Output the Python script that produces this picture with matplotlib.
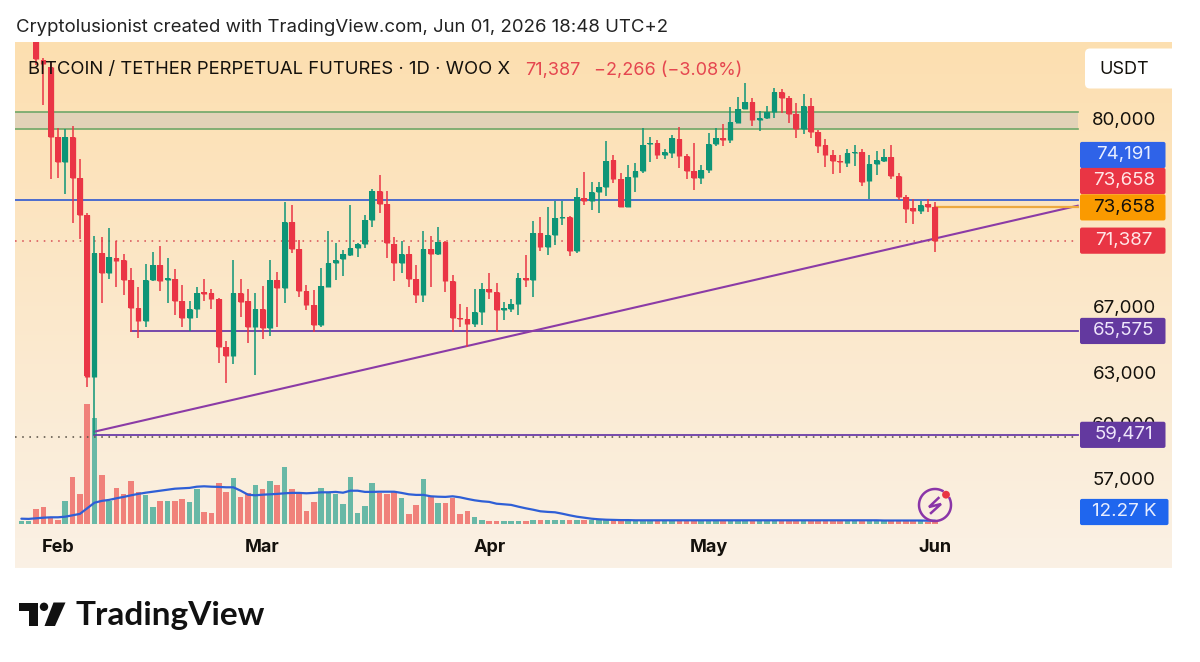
import numpy as np
import pandas as pd
import matplotlib
matplotlib.use("Agg")
import matplotlib.pyplot as plt
import matplotlib.dates as mdates
from matplotlib.patches import FancyBboxPatch, Polygon, Circle

plt.rcParams["font.family"] = ["Inter", "DejaVu Sans"]

# Daily BTC/USDT perpetual candles from 27 Jan to 1 Jun 2026
dates = pd.date_range("2026-01-27", "2026-06-01", freq="D")

opens = [
    88000, 88700,
    87800, 84606, 84050, 78695, 76865, 78695, 75720, 73130, 62850, 70560,
    69245, 70230, 70100, 68790, 67005, 66190, 68790, 69770, 68790, 68855,
    67450, 66375, 66945, 68020, 67960, 67575, 64595, 64050, 67960, 67450,
    65820, 66945, 65760, 68790, 68280, 72650, 70830, 68090, 67195, 65945,
    68340, 69900, 70165, 70430, 70895, 71160, 72790, 74800, 73890, 71160,
    69900, 70495, 68855, 67830, 70830, 70495, 71295, 68730, 66375, 66315,
    66005, 66755, 68215, 68020, 66880, 66945, 67260, 68920, 68790, 71900,
    70960, 71765, 72925, 72990, 70695, 74310, 74100, 74730, 75080, 77010,
    75650, 73680, 75790, 76220, 78180, 78250, 77375, 77520, 78545, 77300,
    76220, 75720, 76290, 78180, 78620, 78475, 79780, 80795, 81330, 79965,
    80115, 80570, 82100, 81635, 80420, 79290, 81025, 79065, 78105, 77375,
    76940, 76795, 77520, 77595, 75505, 76720, 76940, 77230, 75865, 74380,
    73610, 73405, 73890, 73658,
]
closes = [
    88700, 89200,
    84690, 84290, 78695, 76865, 78695, 75720, 73130, 62850, 70560, 69245,
    70300, 70030, 68790, 67005, 66190, 68790, 69770, 68730, 68920, 67450,
    66375, 66945, 67960, 67895, 67575, 64595, 64050, 67960, 67385, 65820,
    66945, 65760, 68790, 68280, 72650, 70830, 68090, 67195, 65945, 68405,
    69900, 70100, 70495, 70895, 71160, 72790, 74800, 73890, 71230, 69900,
    70495, 68855, 67830, 70830, 70495, 71295, 68730, 66375, 66315, 66005,
    66755, 68215, 68020, 66880, 67005, 67260, 68920, 68790, 71900, 70960,
    71765, 72925, 72990, 70695, 74380, 74100, 74730, 75080, 76940, 75650,
    73680, 75790, 76220, 78105, 78250, 77375, 77595, 78620, 77300, 76220,
    75720, 76290, 78180, 78620, 78475, 79780, 80795, 81330, 79965, 80115,
    80570, 82100, 81635, 80420, 79290, 81025, 79065, 78030, 77375, 76940,
    76865, 77520, 77595, 75435, 76720, 77010, 77230, 75865, 74380, 73545,
    73405, 73820, 73680, 71387,
]
highs = [
    89500, 89500,
    88400, 84800, 84450, 79365, 79290, 79515, 77085, 73265, 71700, 71630,
    72240, 71360, 70495, 69575, 68340, 69835, 70630, 71030, 70230, 69510,
    68470, 67450, 68340, 68855, 68215, 67640, 64960, 70100, 68855, 68215,
    67960, 68405, 70100, 69315, 74030, 73820, 71430, 68470, 68150, 69575,
    72040, 71230, 70760, 73820, 71230, 73130, 74940, 75935, 74800, 71630,
    71360, 71030, 69770, 72040, 71700, 72310, 71360, 69115, 67260, 67070,
    68215, 68600, 69245, 68600, 67385, 67575, 69245, 70430, 72720, 72990,
    73680, 74100, 74100, 73060, 75010, 76145, 75435, 75435, 78400, 77375,
    76075, 76650, 76795, 79365, 78695, 78475, 77810, 78845, 79440, 77445,
    78250, 76650, 78990, 79365, 79665, 80945, 81710, 82795, 81635, 80645,
    81025, 82410, 82330, 81790, 81255, 81945, 81635, 79215, 78545, 77740,
    77375, 77810, 78105, 77810, 77375, 77665, 77810, 78105, 76075, 74520,
    74240, 74100, 74240, 74030,
]
lows = [
    87700, 87700,
    84200, 81100, 75650, 75720, 74585, 72580, 71500, 62210, 59471, 67320,
    68860, 68340, 67830, 65510, 65140, 65820, 68730, 68090, 67320, 66565,
    65820, 65570, 66375, 67450, 66945, 63630, 62445, 63570, 66440, 64835,
    62915, 65080, 65265, 65820, 67320, 70560, 67700, 66880, 65510, 65820,
    68340, 68790, 69055, 70365, 70300, 70895, 72310, 73265, 70230, 68730,
    69245, 68340, 67320, 67385, 68340, 70430, 68020, 65510, 65820, 64595,
    65820, 65945, 67575, 65510, 66255, 66755, 66565, 68340, 67700, 70695,
    70430, 71095, 72445, 70365, 70560, 73820, 73475, 73265, 74450, 75365,
    73680, 73680, 74730, 76075, 76865, 77085, 77085, 77155, 76435, 75650,
    74870, 75295, 76075, 78030, 78030, 78250, 79740, 80795, 79515, 79140,
    80040, 80115, 80495, 79740, 78620, 78915, 78620, 77520, 76505, 76005,
    76075, 76505, 76575, 75150, 74240, 75935, 76865, 75650, 74170, 72580,
    72515, 73200, 73335, 70630,
]

# Volume in thousands of USDT and its moving average
volumes = [
    17, 17, 75, 85, 33, 22, 118, 238, 152, 600,
    530, 247, 118, 180, 150, 217, 163, 147, 88, 117,
    118, 118, 127, 110, 178, 63, 58, 208, 163, 230,
    135, 155, 197, 175, 217, 197, 285, 175, 158, 67,
    113, 183, 163, 152, 103, 237, 57, 92, 208, 158,
    150, 162, 133, 53, 98, 228, 142, 108, 108, 133,
    50, 65, 35, 22, 18, 18, 18, 18, 18, 18,
    23, 23, 20, 20, 20, 20, 23, 20, 20, 20,
    20, 20, 20, 18, 18, 17, 18, 18, 17, 18,
    18, 17, 17, 18, 17, 18, 18, 17, 18, 18,
    18, 17, 18, 18, 17, 18, 17, 18, 18, 17,
    18, 17, 18, 17, 17, 18, 18, 17, 17, 18,
    17, 18, 16, 15, 14, 12.27,
]
volume_ma = [
    28, 27, 30, 33, 35, 35, 38, 45, 52, 80,
    108, 117, 122, 130, 137, 145, 152, 158, 163, 168,
    173, 178, 180, 182, 188, 190, 188, 187, 185, 185,
    168, 148, 145, 148, 150, 152, 155, 157, 157, 155,
    157, 160, 160, 162, 158, 168, 168, 162, 162, 163,
    163, 163, 157, 150, 147, 147, 140, 138, 137, 140,
    135, 127, 120, 115, 112, 103, 100, 97, 88, 80,
    73, 65, 62, 60, 53, 45, 38, 33, 28, 25,
    23, 22, 21, 21, 20, 20, 20, 20, 20, 20,
    20, 20, 20, 20, 20, 20, 20, 20, 20, 20,
    20, 20, 20, 20, 20, 20, 20, 20, 20, 20,
    20, 20, 20, 20, 20, 20, 20, 20, 19, 19,
    19, 19, 19, 19, 18, 18,
]

# Price levels and drawings
price_ticks = [80000, 67000, 63000, 60000, 57000]
month_ticks = ["2026-02-01", "2026-03-01", "2026-04-01", "2026-05-01", "2026-06-01"]
month_labels = ["Feb", "Mar", "Apr", "May", "Jun"]
zone_top, zone_bottom = 80593, 79270
resistance = 74191
last_price = 71387
prev_close = 73658
support = 65575
spike_low = 59471
spike_close_level = 59370
support_start = "2026-02-11"
spike_start = "2026-02-06"
trend_prices = [59650, 73770]
drawing_end = pd.Timestamp("2026-06-20 12:00")

RED = "#EA3545"
GREEN = "#0E9577"
VOL_RED = "#F0817A"
VOL_GREEN = "#68B8A6"
PURPLE = "#6A3CA8"
TREND = "#8B3BA6"
INK = "#14110C"

W, H = 1200, 662
fig = plt.figure(figsize=(W / 100, H / 100), dpi=100, facecolor="white")
panel = [15 / W, (H - 568) / H, (1172 - 15) / W, (568 - 42) / H]

# Warm vertical wash behind the chart
bg = fig.add_axes(panel, zorder=0)
top_col, bottom_col = np.array([253, 223, 176]), np.array([250, 241, 229])
ramp = np.linspace(0, 1, 256)[:, None, None]
bg.imshow((top_col * (1 - ramp) + bottom_col * ramp).astype(np.uint8), aspect="auto")
bg.axis("off")

x = mdates.date2num(dates)
x0 = mdates.date2num(pd.Timestamp("2026-01-29"))
day_px = 7.31
xlim = (x0 + (15 - 36) / day_px, x0 + (1172 - 36) / day_px)
end_x = mdates.date2num(drawing_end)

# Volume pane shares the time axis
vax = fig.add_axes(panel, zorder=1)
vax.patch.set_visible(False)
vax.set_xlim(*xlim)
vax.set_ylim(-218.5, 2411.5)
vax.axis("off")
vol_colors = [VOL_GREEN if c >= o else VOL_RED for o, c in zip(opens, closes)]
vax.bar(x, volumes, width=0.76, color=vol_colors, linewidth=0)
vax.plot(x, volume_ma, color="#2E5FD6", lw=1.6, solid_capstyle="round")

# Price pane on a log scale
ax = fig.add_axes(panel, zorder=2)
ax.patch.set_visible(False)
ax.set_yscale("log")
ax.set_xlim(*xlim)
ax.set_ylim(52471, 86051)
ax.axis("off")

ax.fill_between([xlim[0], end_x], zone_bottom, zone_top, color="#E2D2B8", lw=0, zorder=1)
for lvl in (zone_top, zone_bottom):
    ax.plot([xlim[0], end_x], [lvl, lvl], color="#6FA768", lw=1.2, zorder=2)
ax.plot([xlim[0], end_x], [resistance] * 2, color="#3E63CF", lw=1.3, zorder=2)
ax.plot([xlim[0], end_x], [last_price] * 2, color="#D9545A", lw=1.15, ls=(0, (1, 3.5)), zorder=2)
ax.plot([xlim[0], end_x], [spike_close_level] * 2, color="#5A5348", lw=1.15, ls=(0, (1, 3.5)), zorder=2)
ax.plot([mdates.date2num(pd.Timestamp(support_start)), end_x], [support] * 2, color=PURPLE, lw=1.3, zorder=2)
ax.plot([mdates.date2num(pd.Timestamp(spike_start)), end_x], [spike_low] * 2, color=PURPLE, lw=1.3, zorder=2)
ax.plot([mdates.date2num(pd.Timestamp(spike_start)), end_x], trend_prices, color=TREND, lw=1.5, zorder=3)
ax.plot([x[-1], end_x], [prev_close] * 2, color="#EDA93F", lw=1.6, zorder=3)

candle_colors = [GREEN if c >= o else RED for o, c in zip(opens, closes)]
ax.vlines(x, lows, highs, colors=candle_colors, lw=1.1, zorder=4)
tops = np.maximum(opens, closes)
bottoms = np.minimum(opens, closes)
ax.bar(x, tops - bottoms, bottom=bottoms, width=0.76, color=candle_colors, linewidth=0, zorder=5)
ax.vlines(x, bottoms - 25, tops + 25, colors=candle_colors, lw=3.8, zorder=5)


def price_y(price):
    """Pixel row of a price, counted from the top of the figure."""
    return H - ax.transData.transform((x0, price))[1]


# Fixed chrome is laid out in figure pixels
ov = fig.add_axes([0, 0, 1, 1], zorder=3)
ov.set_xlim(0, W)
ov.set_ylim(H, 0)
ov.axis("off")
ov.patch.set_visible(False)

ov.text(16, 28, "Cryptolusionist created with TradingView.com, Jun 01, 2026 18:48 UTC+2",
        fontsize=13.4, color="#222222", va="center", ha="left")
ov.text(28, 70, "BITCOIN / TETHER PERPETUAL FUTURES · 1D · WOO X",
        fontsize=13.3, color=INK, va="center", ha="left", zorder=6)
ov.text(525, 70, "71,387", fontsize=13, color="#E5464F", va="center", ha="left")
ov.text(594, 70, "−2,266 (−3.08%)", fontsize=13, color="#E5464F", va="center", ha="left")

ov.add_patch(FancyBboxPatch((1085, 48.5), 93, 40, boxstyle="round,pad=0,rounding_size=5",
                            fc="white", ec="none", zorder=3))
ov.text(1124, 69, "USDT", fontsize=13, color=INK, ha="center", va="center", zorder=4)

for tick in price_ticks:
    ov.text(1124.5, price_y(tick) + 0.5, f"{tick:,}", fontsize=13.5, color=INK, ha="center", va="center", zorder=3)

for day, name in zip(month_ticks, month_labels):
    px = 36 + day_px * (mdates.date2num(pd.Timestamp(day)) - x0)
    ov.text(px, 548, name, fontsize=13, fontweight="bold", color=INK, ha="center", va="center", zorder=3)


def badge(center_y, label, face, text_color="white", right=1165.5):
    ov.add_patch(FancyBboxPatch((1080, center_y - 13.1), right - 1080, 26.2,
                                boxstyle="round,pad=0,rounding_size=2", fc=face, ec="none", zorder=4))
    ov.text(1124, center_y, label, fontsize=13.5, color=text_color, ha="center", va="center", zorder=5)


badge(155, f"{resistance:,}", "#2F63E8", "#E8EEFF")
badge(181, f"{prev_close:,}", "#E93544", "#FFE6E6")
badge(price_y(prev_close), f"{prev_close:,}", "#FA9A00", INK)
badge(price_y(last_price), f"{last_price:,}", "#E93544", "#FFE6E6")
badge(price_y(support), f"{support:,}", "#63399F", "#EFE6FB")
badge(price_y(spike_low), f"{spike_low:,}", "#63399F", "#EFE6FB")
badge(512, "12.27 K", "#1F66EE", "#E8EEFF", right=1168.5)

# Alert icon above the latest volume bars
cx, cy, r = 935, 505, 16
angles = np.radians(np.linspace(62, 385, 90))
ov.plot(cx + r * np.cos(angles), cy - r * np.sin(angles), color="#8A35A8", lw=1.8, zorder=5)
ov.plot([938.5, 929, 941, 931], [498, 507, 504, 513], color="#8A35A8", lw=1.8, zorder=5,
        solid_joinstyle="miter")
ov.add_patch(Circle((946, 494.7), 3.9, fc="#E93544", ec="none", zorder=6))

# TradingView wordmark
ov.add_patch(Polygon([(18.5, 602.5), (37.5, 602.5), (37.5, 626), (28.5, 626), (28.5, 610.5), (18.5, 610.5)],
                     closed=True, fc="#111111", ec="none"))
ov.add_patch(Circle((44, 606.8), 4.2, fc="#111111", ec="none"))
ov.add_patch(Polygon([(53.5, 602.5), (65.5, 602.5), (55, 626), (44.5, 626)], closed=True, fc="#111111", ec="none"))
ov.text(76, 616, "TradingView", fontsize=24, fontweight="bold", family=["Lato", "DejaVu Sans"],
        color="#111111", va="center", ha="left")

fig.savefig("out.png", dpi=100, facecolor="white")
